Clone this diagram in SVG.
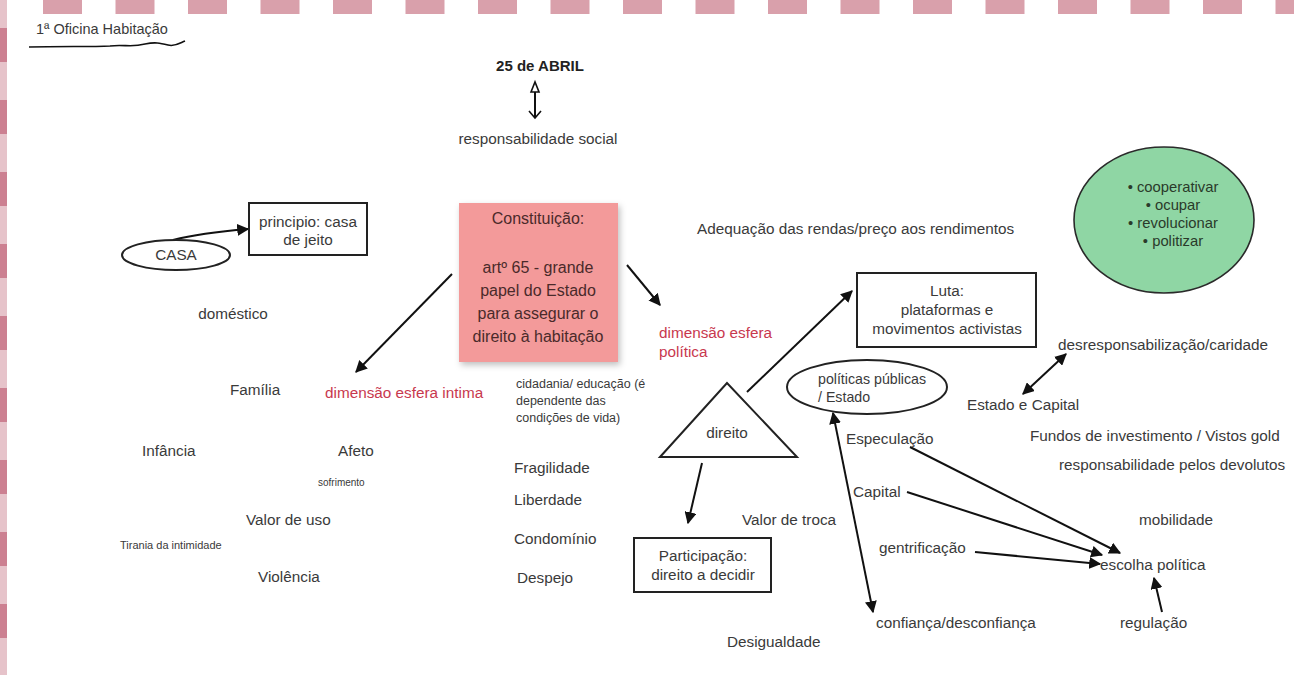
<svg xmlns="http://www.w3.org/2000/svg" width="1294" height="675" viewBox="0 0 1294 675">
<style>
text{font-family:"Liberation Sans",Arial,sans-serif;fill:#3a3a3a;font-size:15.3px}
.c{text-anchor:middle}
.red{fill:#c8384e}
.sm{font-size:12.5px}
.box{fill:#fff;stroke:#222;stroke-width:2}
.ln{stroke:#111;stroke-width:2;fill:none}
.con{font-size:16px;fill:#4a2a2a}
.grn{font-size:14.8px;fill:#2a3a2a}
</style>
<defs>
<marker id="ahs" viewBox="0 0 10 10" refX="9" refY="5" markerWidth="12" markerHeight="12" orient="auto-start-reverse" markerUnits="userSpaceOnUse">
<path d="M0,0 L10,5 L0,10 z" fill="#111"/>
</marker>
<filter id="sh" x="-10%" y="-10%" width="130%" height="130%">
<feDropShadow dx="2" dy="3" stdDeviation="3" flood-color="#000" flood-opacity="0.25"/>
</filter>
</defs>
<rect width="1294" height="675" fill="#fff"/>
<g id="border">
<line x1="43" y1="7" x2="1294" y2="7" stroke="#d9a0ab" stroke-width="14" stroke-dasharray="39 33.5"/>
<line x1="3.5" y1="0" x2="3.5" y2="675" stroke="#e6c3ca" stroke-width="7"/>
<line x1="3.5" y1="28" x2="3.5" y2="675" stroke="#cc8091" stroke-width="7" stroke-dasharray="34 38"/>
</g>
<g id="title">
<text x="36" y="34" style="font-size:14.5px">1ª Oficina Habitação</text>
<path d="M29,47 C60,46 90,47 110,46 C125,44 130,48 145,44 C155,42 160,43 168,45 C175,47 180,43 185,41" fill="none" stroke="#111" stroke-width="1.6"/>
</g>
<g id="connectors">
<line x1="535" y1="84" x2="535" y2="118" class="ln" stroke-width="1.6"/>
<path d="M531,92 L535,82 L539,92 z" fill="#fff" stroke="#111" stroke-width="1.6"/>
<path d="M529,111 L535,118 L541,111" fill="none" stroke="#111" stroke-width="1.6"/>
<path d="M173,240 Q200,233 248,229" class="ln" marker-end="url(#ahs)"/>
<line x1="452" y1="274" x2="356" y2="372" class="ln" marker-end="url(#ahs)"/>
<line x1="627" y1="265" x2="660" y2="305" class="ln" marker-end="url(#ahs)"/>
<line x1="747" y1="392" x2="852" y2="291" class="ln" marker-end="url(#ahs)"/>
<line x1="702" y1="463" x2="688" y2="523" class="ln" marker-end="url(#ahs)"/>
<line x1="833" y1="413" x2="873" y2="612" class="ln" marker-start="url(#ahs)" marker-end="url(#ahs)"/>
<line x1="1023" y1="394" x2="1066" y2="354" class="ln" marker-start="url(#ahs)" marker-end="url(#ahs)"/>
<line x1="910" y1="447" x2="1120" y2="553" class="ln" marker-end="url(#ahs)"/>
<line x1="907" y1="492" x2="1102" y2="555" class="ln" marker-end="url(#ahs)"/>
<line x1="975" y1="552" x2="1100" y2="564" class="ln" marker-end="url(#ahs)"/>
<line x1="1162" y1="612" x2="1154" y2="578" class="ln" marker-end="url(#ahs)"/>
</g>
<g id="n-abril"><text x="540" y="71" class="c" style="font-weight:bold;fill:#222;font-size:15px">25 de ABRIL</text></g>
<g id="n-respsocial"><text x="538" y="144" class="c">responsabilidade social</text></g>
<g id="n-casa">
<ellipse cx="176" cy="255" rx="54" ry="15" class="box"/>
<text x="176" y="260" class="c">CASA</text>
</g>
<g id="n-principio">
<rect x="249" y="203" width="118" height="52" class="box"/>
<text x="308" y="227" class="c">principio: casa</text>
<text x="308" y="245" class="c">de jeito</text>
</g>
<g id="n-domestico"><text x="233" y="319" class="c">doméstico</text></g>
<g id="n-constituicao">
<rect x="459" y="203" width="159" height="159" fill="#f39a9a" filter="url(#sh)"/>
<text x="538" y="224" class="c con">Constituição:</text>
<text x="538" y="273" class="c con">artº 65 - grande</text>
<text x="538" y="296" class="c con">papel do Estado</text>
<text x="538" y="319" class="c con">para assegurar o</text>
<text x="538" y="342" class="c con">direito à habitação</text>
</g>
<g id="n-adequacao"><text x="697" y="234">Adequação das rendas/preço aos rendimentos</text></g>
<g id="n-green">
<ellipse cx="1164" cy="220" rx="90" ry="73" fill="#8fd6a4" stroke="#2a2a2a" stroke-width="1.6"/>
<text x="1173" y="192" class="c grn">• cooperativar</text>
<text x="1173" y="210" class="c grn">• ocupar</text>
<text x="1173" y="228" class="c grn">• revolucionar</text>
<text x="1173" y="246" class="c grn">• politizar</text>
</g>
<g id="n-luta">
<rect x="857" y="273" width="179" height="74" class="box"/>
<text x="947" y="296" class="c">Luta:</text>
<text x="947" y="315" class="c">plataformas e</text>
<text x="947" y="334" class="c">movimentos activistas</text>
</g>
<g id="n-dimpolitica">
<text x="659" y="338" class="red">dimensão esfera</text>
<text x="659" y="357" class="red">política</text>
</g>
<g id="n-dimintima"><text x="325" y="398" class="red">dimensão esfera intima</text></g>
<g id="n-familia"><text x="230" y="395">Família</text></g>
<g id="n-cidadania">
<text x="516" y="388" class="sm">cidadania/ educação (é</text>
<text x="516" y="405" class="sm">dependente das</text>
<text x="516" y="422" class="sm">condições de vida)</text>
</g>
<g id="n-direito">
<path d="M660,457 L727,383 L797,457 z" class="box"/>
<text x="727" y="438" class="c">direito</text>
</g>
<g id="n-politicas">
<ellipse cx="867" cy="387" rx="80" ry="27" class="box"/>
<text x="818" y="384" style="font-size:14.2px">políticas públicas</text>
<text x="818" y="402" style="font-size:14.2px">/ Estado</text>
</g>
<g id="n-desresp"><text x="1058" y="350">desresponsabilização/caridade</text></g>
<g id="n-estadocapital"><text x="967" y="410">Estado e Capital</text></g>
<g id="n-fundos"><text x="1030" y="441">Fundos de investimento / Vistos gold</text></g>
<g id="n-devolutos"><text x="1059" y="470">responsabilidade pelos devolutos</text></g>
<g id="n-infancia"><text x="142" y="456">Infância</text></g>
<g id="n-afeto"><text x="338" y="456">Afeto</text></g>
<g id="n-sofrimento"><text x="318" y="486" style="font-size:10px">sofrimento</text></g>
<g id="n-valoruso"><text x="246" y="525">Valor de uso</text></g>
<g id="n-tirania"><text x="120" y="549" style="font-size:11px">Tirania da intimidade</text></g>
<g id="n-violencia"><text x="258" y="582">Violência</text></g>
<g id="n-fragilidade"><text x="514" y="473">Fragilidade</text></g>
<g id="n-liberdade"><text x="514" y="505">Liberdade</text></g>
<g id="n-condominio"><text x="514" y="544">Condomínio</text></g>
<g id="n-despejo"><text x="517" y="583">Despejo</text></g>
<g id="n-participacao">
<rect x="634" y="538" width="137" height="54" class="box"/>
<text x="703" y="561" class="c">Participação:</text>
<text x="703" y="580" class="c">direito a decidir</text>
</g>
<g id="n-valortroca"><text x="742" y="525">Valor de troca</text></g>
<g id="n-desigualdade"><text x="727" y="647">Desigualdade</text></g>
<g id="n-especulacao"><text x="846" y="444">Especulação</text></g>
<g id="n-capital"><text x="853" y="497">Capital</text></g>
<g id="n-gentrificacao"><text x="879" y="553">gentrificação</text></g>
<g id="n-escolha"><text x="1100" y="570">escolha política</text></g>
<g id="n-mobilidade"><text x="1139" y="525">mobilidade</text></g>
<g id="n-regulacao"><text x="1120" y="628">regulação</text></g>
<g id="n-confianca"><text x="876" y="628">confiança/desconfiança</text></g>
</svg>
